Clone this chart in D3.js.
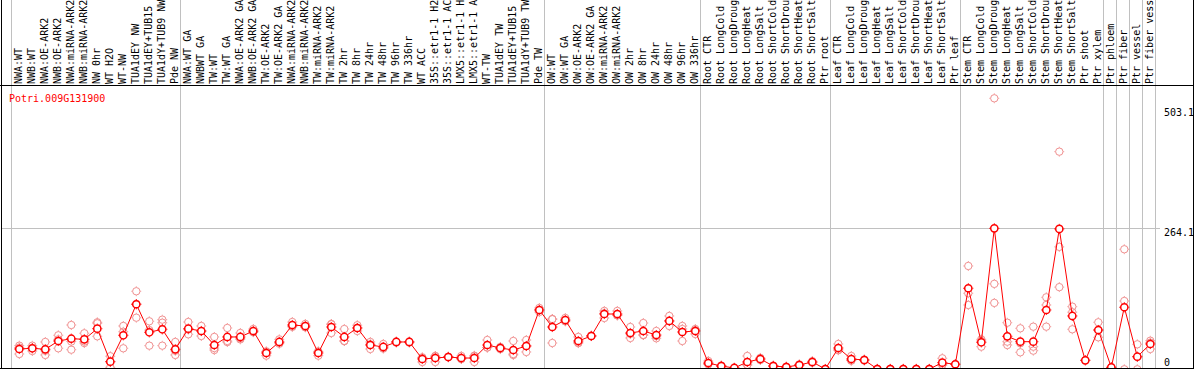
<!DOCTYPE html>
<html><head><meta charset="utf-8">
<script src="https://cdn.jsdelivr.net/npm/d3@7/dist/d3.min.js"></script>
<style>
html,body{margin:0;padding:0;background:#fff;}
svg{display:block;}
text{font-family:"DejaVu Sans Mono",monospace;font-size:10px;}
</style></head>
<body>
<svg id="chart" width="1194" height="370"></svg>
<script>
const geneId = "Potri.009G131900";

const labels = [
"NWA:WT","NWB:WT","NWA:OE-ARK2","NWB:OE-ARK2","NWA:miRNA-ARK2","NWB:miRNA-ARK2","NW 0hr","WT H2O","WT-NW","TUA1dEY NW","TUA1dEY+TUB15","TUA1dY+TUB9 NW","Pde NW",
"NWA:WT GA","NWBWT GA","TW:WT","TW:WT GA","NWA:OE-ARK2 GA","NWB:OE-ARK2 GA","TW:OE-ARK2","TW:OE-ARK2 GA","NWA:miRNA-ARK2","NWB:miRNA-ARK2","TW:miRNA-ARK2","TW:miRNA-ARK2","TW 2hr","TW 8hr","TW 24hr","TW 48hr","TW 96hr","TW 336hr","WT ACC","35S::etr1-1 H2","35S::etr1-1 AC","LMX5::etr1-1 H","LMX5::etr1-1 A","WT-TW","TUA1dEY TW","TUA1dEY+TUB15","TUA1dY+TUB9 TW","Pde TW",
"OW:WT","OW:WT GA","OW:OE-ARK2","OW:OE-ARK2 GA","OW:miRNA-ARK2","OW:miRNA-ARK2","OW 2hr","OW 8hr","OW 24hr","OW 48hr","OW 96hr","OW 336hr",
"Root CTR","Root LongCold","Root LongDroug","Root LongHeat","Root LongSalt","Root ShortCold","Root ShortDrou","Root ShortHeat","Root ShortSalt","Ptr root",
"Leaf CTR","Leaf LongCold","Leaf LongDroug","Leaf LongHeat","Leaf LongSalt","Leaf ShortCold","Leaf ShortDrou","Leaf ShortHeat","Leaf ShortSalt","Ptr leaf",
"Stem CTR","Stem LongCold","Stem LongDroug","Stem LongHeat","Stem LongSalt","Stem ShortCold","Stem ShortDrou","Stem ShortHeat","Stem ShortSalt","Ptr shoot","Ptr xylem",
"Ptr phloem","Ptr fiber","Ptr vessel","Ptr fiber vess"
];

// group boundaries (index of first sample in each group, plus end)
const groupStarts = [0,13,41,53,63,73,84,85,86,87,88];

// mean expression per sample
const means = [
42.3,43.6,41.7,57,61.2,60.1,79.6,18.9,67.5,124.5,73,78.5,41.7,
79.6,75.4,49.6,64.4,64.4,75.4,34.9,55.2,86.4,84.6,34.9,82.7,64.4,80.9,49.6,46,55.2,55.2,23.9,25.7,27.6,25.7,25.7,49.6,44.1,40.4,47.8,114,
82.7,95.6,57,66.2,106.6,106.6,71.7,75.4,68,93.8,73.5,75.4,
16.5,11,7.4,18.4,23.9,11,9.2,12.9,18.4,5.5,
44.1,23.9,22.1,5.5,5.5,5.5,5.5,5.5,17.1,14.2,
153.9,54.6,264.1,65.6,55.7,55.7,114,263,103,21.5,77.2,
8.6,119,28.1,51.5
];

// individual replicate values per sample
const replicates = [
[48.4,33.1,45],[48.4,38.6,44],[55.2,31.3,39],[67.5,43.6,60],[86.4,41,56],[71.2,53.3,56],[91.4,89.5,65.6],[8.6,19,29],[84.6,43.6,74],[148.4,99.8,125],[93.2,48.4,77],[96.2,90.6,48.4],[55.2,31.3,39],
[91.9,69.3,78],[84.6,66.2,75],[64.4,40.4,44],[80.9,55,57],[71.7,62,60],[79,73,74],[30,38,37],[60,52,54],[91.9,84,83],[88.3,83,82],[30,38,37],[71.7,88,88],[79,57,57],[75.4,86,81],[55.2,42.3,51],[51.5,43,44],[55,56,54],[55,56,54],[18.4,27,26],[29.4,18.4,29],[27,28,28],[29.4,24,24],[18.4,29,30],[58.8,45,45],[44,46,42],[57,31.3,33],[58.8,36.8,48],[117.7,110.3,114],
[97.4,53.3,97],[99.3,94,93],[64.4,54,53],[66,67,66],[112.2,99.3,108],[112.2,104,104],[82.7,62.5,70],[90,68,68],[75.4,62,66],[103,84.6,94],[84.6,57,79],[69.9,79,77],
[20.2,14,15],[10,12,11],[7,8,7],[29.4,13,13],[26,22,24],[11,10,12],[9,10,9],[12,14,13],[20,17,18],[5.5],
[51.5,40,41],[29.4,21,21],[22,23,21],[5,6,5],[5,6,5],[5,6,5],[5,6,5],[5,6,5],[25.2,13,13],[14.2],
[194.9,144.7,123.2],[46.5,60,57],[503.1,162,127],[90.6,55.7,49.6],[80.3,52.8,36.2],[83.3,46.5,39.2],[137.3,123.2,83.3],[405,230,156],[120.1,110,78.5],[21.5],[91.4,63.8,77],
[8.6],[225.6,130.5,5],[50.9,5,28],[57.5,53.9,42.3]
];

const yTicks = [503.1, 264.1, 0];
const gridValues = [264.1];

const W = 1194, H = 370;
const svg = d3.select("#chart");

const x = d3.scaleBand().domain(d3.range(labels.length)).range([11, 11 + 13 * labels.length]).paddingInner(0);
const cx = i => x(i) + 8.3;
const y = d3.scaleLinear().domain([0, 503.1]).range([372, 98.3]);

const headerY = 85.5, plotBottom = 368.5, leftX = 1.5, rightX = 1193.5;

svg.append("defs").append("clipPath").attr("id","plotclip")
  .append("rect").attr("x",2).attr("y",86).attr("width",1191).attr("height",282);

const edge = i => Math.round(i < labels.length ? x(i) : x(labels.length-1) + x.bandwidth()) + 0.5;

// vertical group separators
svg.append("g").selectAll("line").data(groupStarts).join("line")
  .attr("x1", edge).attr("x2", edge)
  .attr("y1", 0).attr("y2", plotBottom)
  .attr("stroke", "#c0c0c0").attr("stroke-width", 1);

// horizontal grid line
svg.append("g").selectAll("line").data(gridValues).join("line")
  .attr("x1", 2).attr("x2", 1160)
  .attr("y1", v => Math.round(y(v)) + 0.5).attr("y2", v => Math.round(y(v)) + 0.5)
  .attr("stroke", "#c0c0c0").attr("stroke-width", 1);

// header labels
svg.append("g").selectAll("text").data(labels).join("text")
  .attr("transform", (d,i) => `translate(${cx(i) + 3},84) rotate(-90)`)
  .attr("fill", "#000")
  .text(d => d);

// borders
const border = svg.append("g").attr("stroke","#000").attr("stroke-width",1);
border.append("line").attr("x1",0).attr("x2",W).attr("y1",headerY).attr("y2",headerY);
border.append("line").attr("x1",0).attr("x2",W).attr("y1",plotBottom).attr("y2",plotBottom);
border.append("line").attr("x1",leftX).attr("x2",leftX).attr("y1",0).attr("y2",plotBottom);
border.append("line").attr("x1",rightX).attr("x2",rightX).attr("y1",0).attr("y2",plotBottom);

// y labels
svg.append("g").selectAll("text").data(yTicks).join("text")
  .attr("x", 1164)
  .attr("y", v => Math.max(116, Math.min(366, y(v) + 8)))
  .attr("fill", "#000")
  .text(v => String(v));

// gene id
svg.append("text").attr("x", 9).attr("y", 101.5).attr("fill", "#ff0000").text(geneId);

const plot = svg.append("g").attr("clip-path","url(#plotclip)");

function marker(g, px, py, r, color, sw, fill){
  g.append("circle").attr("cx",px).attr("cy",py).attr("r",r)
    .attr("fill",fill).attr("stroke",color).attr("stroke-width",sw);
  const a = r + sw/2 - 0.2, b = a + 0.9;
  [[0,-1],[0,1],[-1,0],[1,0]].forEach(([dx,dy])=>{
    g.append("line").attr("x1",px+dx*a).attr("y1",py+dy*a).attr("x2",px+dx*b).attr("y2",py+dy*b)
      .attr("stroke",color).attr("stroke-width",1);
  });
}

// replicates
const repG = plot.append("g");
replicates.forEach((arr,i)=>{
  arr.forEach(v => marker(repG, cx(i), y(v), 3.7, "#f09090", 1, "none"));
});

// mean line
plot.append("path").datum(means)
  .attr("d", d3.line().x((d,i)=>cx(i)).y(d=>y(d)))
  .attr("fill","none").attr("stroke","#ff0000").attr("stroke-width",1);

// mean markers
const meanG = plot.append("g");
means.forEach((v,i)=> marker(meanG, cx(i), y(v), 3.6, "#ff0000", 1.5, "#fff"));
</script>
</body></html>
